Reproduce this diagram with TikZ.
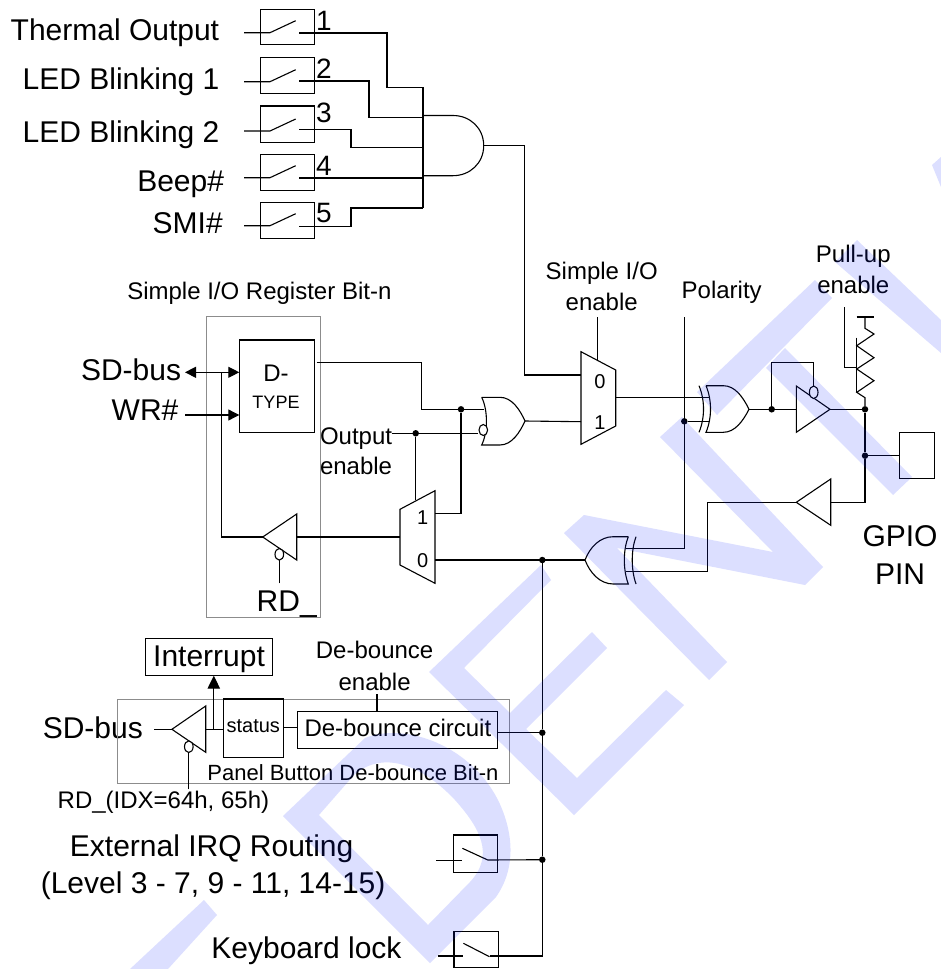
\documentclass[tikz,border=0pt]{standalone}
\usepackage{fontspec}
\setmainfont{Liberation Sans}
\usetikzlibrary{arrows.meta}
\tikzset{
  wire/.style={draw=black,line width=1.1pt,line join=miter},
  boxst/.style={draw=black,line width=1.1pt,inner sep=0pt,outer sep=0pt},
  graybox/.style={draw=black!45,line width=0.9pt,inner sep=0pt,outer sep=0pt},
  gate/.style={draw=black,line width=1.1pt,line join=miter},
  dotj/.style={circle,fill=black,inner sep=0pt,minimum size=6.5pt},
  txt/.style={inner sep=0pt,outer sep=0pt,anchor=base west},
  txtc/.style={inner sep=0pt,outer sep=0pt,anchor=base},
  big/.style={font=\fontsize{30}{36}\selectfont},
  mid/.style={font=\fontsize{24}{28}\selectfont},
  sm/.style={font=\fontsize{22}{26}\selectfont},
  muxd/.style={font=\fontsize{20}{24}\selectfont},
  wmark/.style={fill={rgb,255:red,20;green,40;blue,255},fill opacity=0.15,draw=none},
  bubble/.style={draw=black,line width=1.1pt,fill=white},
  tipa/.style={-{Triangle[length=11pt,width=11pt]}},
  tipb/.style={{Triangle[length=11pt,width=11pt]}-{Triangle[length=11pt,width=11pt]}},
  tipc/.style={-{Triangle[length=13pt,width=12.5pt]}},
}
\begin{document}
\begin{tikzpicture}[x=1pt,y=-1pt]
\useasboundingbox (0,0) rectangle (941,969);
% ---- input labels
\node[txt,big] (tTherm) at (10.7,40.7) {Thermal Output};
\node[txt,big] (tLed1) at (22.7,89.3) {LED Blinking 1};
\node[txt,big] (tLed2) at (22.7,142.7) {LED Blinking 2};
\node[txt,big] (tBeep) at (137.3,191) {Beep\#};
\node[txt,big] (tSmi) at (152.7,233.3) {SMI\#};
\node[txt,mid] (tReg) at (127.3,299) {Simple I/O Register Bit-n};
\node[txt,big] (tSd) at (81,380) {SD-bus};
\node[txt,big] (tWr) at (111.7,420.7) {WR\#};
\node[txt,mid] (tOut) at (320,444) {Output};
\node[txt,mid] (tEn) at (320,474) {enable};
\node[txt,big] (tRd) at (256.7,611.7) {RD\_};
\node[txtc,mid] (tSio) at (601.7,279.3) {Simple I/O};
\node[txtc,mid] (tSioE) at (601.7,310) {enable};
\node[txt,mid] (tPol) at (681.7,298.3) {Polarity};
\node[txtc,mid] (tPu) at (853.3,262.7) {Pull-up};
\node[txtc,mid] (tPuE) at (853.3,293.3) {enable};
\node[txtc,big] (tGpio) at (900,546.7) {GPIO};
\node[txtc,big] (tPin) at (900,584) {PIN};
\node[txtc,mid] (tDb) at (374.6,658.3) {De-bounce};
\node[txtc,mid] (tDbE) at (374.6,690) {enable};
\node[txt,big] (tSd2) at (42.8,738.3) {SD-bus};
\node[txt,mid] (tRdI) at (57.7,808.3) {RD\_(IDX=64h, 65h)};
\node[txt,sm] (tPan) at (207.4,780.7) {Panel Button De-bounce Bit-n};
\node[txt,big] (tExt) at (69.9,856.7) {External IRQ Routing};
\node[txt,big] (tLvl) at (40.8,893.3) {(Level 3 - 7, 9 - 11, 14-15)};
\node[txt,big] (tKey) at (211.4,958.3) {Keyboard lock};
% numbers beside switches
\foreach \n/\yy in {1/30,2/78.3,3/122.7,4/175,5/222.7}
  \node[txt,font=\fontsize{28}{32}\selectfont] (num\n) at (316,\yy) {\n};
% ---- boxes
\node[graybox,minimum width=113.3pt,minimum height=300.6pt] (regbox) at (263.35,467) {};
\node[graybox,minimum width=391.8pt,minimum height=84.7pt] (panbox) at (313.1,741.35) {};
\node[boxst,minimum width=75.4pt,minimum height=92.7pt] (dff) at (277,386.35) {};
\node[txtc,mid] (tD) at (276,381) {D-};
\node[txtc,font=\fontsize{18}{22}\selectfont] (tType) at (276,408) {TYPE};
\node[boxst,minimum width=127.1pt,minimum height=37.4pt] (intr) at (209.05,657) {};
\node[txtc,big] (tInt) at (209.05,666) {Interrupt};
\node[boxst,minimum width=60.2pt,minimum height=58.3pt] (stat) at (253.3,728.15) {};
\node[txtc,font=\fontsize{20}{24}\selectfont] (tSt) at (253.3,732.7) {status};
\node[boxst,minimum width=200pt,minimum height=36.6pt] (deb) at (397.9,730) {};
\node[txtc,mid] (tDc) at (397.9,736.7) {De-bounce circuit};
\node[boxst,minimum width=35pt,minimum height=46.4pt] (pin) at (916.8,455.5) {};
% switches
\node[boxst,minimum width=54.3pt,minimum height=35pt] (sw1) at (287.2,26.8) {};
\node[boxst,minimum width=54.3pt,minimum height=36.4pt] (sw2) at (287.2,75.5) {};
\node[boxst,minimum width=54.3pt,minimum height=36.7pt] (sw3) at (287.2,124.3) {};
\node[boxst,minimum width=54.3pt,minimum height=36.3pt] (sw4) at (287.2,172.2) {};
\node[boxst,minimum width=54.3pt,minimum height=36pt] (sw5) at (287.2,220.7) {};
\node[boxst,minimum width=43.9pt,minimum height=37.3pt] (swI) at (475.25,853.65) {};
\node[boxst,minimum width=44.2pt,minimum height=36pt] (swK) at (476.1,949.7) {};
\foreach \k/\yi/\yo in {1/32.7/33,2/81.7/81,3/131/129.7,4/177.7/178,5/225.7/226.7}{
  \coordinate (in\k) at (244,\yi);
  \coordinate (c\k) at (270,\yi);
  \coordinate (e\k) at (295.7,\yi-12);
  \coordinate (o\k) at (299,\yo);
  \draw[wire] (in\k) -- (c\k) -- (e\k);
}
% AND gate
\coordinate (a1) at (423,87.3);\coordinate (a2) at (423,117.7);\coordinate (a3) at (423,147.3);
\coordinate (a4) at (423,178);\coordinate (a5) at (423,208);
\draw[wire] (a1) -- (a5);
\draw[wire] (o1) -| (387,87.3) -- (a1);
\draw[wire] (o2) -| (369,117.7) -- (a2);
\draw[wire] (o3) -| (351,147.3) -- (a3);
\draw[wire] (o4) -- (a4);
\draw[wire] (o5) -| (351,208) -- (a5);
\coordinate (andout) at (483.7,145.7);
\draw[gate] (423,115.5) -- (453,115.5) .. controls (470,115.5) and (483.7,128) .. (andout) .. controls (483.7,163) and (470,175.7) .. (453,175.7) -- (423,175.7);
% Mux 1
\coordinate (m1a) at (581,375);\coordinate (m1b) at (581,421.7);\coordinate (m1o) at (615.7,397.7);
\draw[gate] (581,351.7) -- (615.7,370) -- (615.7,426) -- (581,444.3) -- cycle;
\node[txtc,muxd] (m1d0) at (600,388) {0};
\node[txtc,muxd] (m1d1) at (600,429) {1};
\coordinate (sioS) at (597.7,317.3);\coordinate (sioT) at (597.7,360);
\draw[wire] (sioS) -- (sioT);
\draw[wire] (andout) -- (524.3,145.7) -- (524.3,375) -- (m1a);
% OR gate
\coordinate (orA) at (484,409.3);\coordinate (orB) at (478.3,433.3);\coordinate (orO) at (525,421);
\draw[gate] (481.7,397.3) -- (500,397.3) .. controls (512,397.3) and (520,410) .. (orO) .. controls (520,432) and (512,445) .. (500,445) -- (481.7,445) .. controls (488,432) and (488,410) .. (481.7,397.3);
\draw[wire] (orO) -- (m1b);
\node[dotj] (j1) at (461,409.3) {};
\node[dotj] (j2) at (415.7,433.3) {};
\draw[wire] (316.7,362.7) -- (421.7,362.7) -- (421.7,409.3) -- (j1) -- (orA);
\coordinate (oeS) at (391.7,433.3);
\draw[wire] (oeS) -- (orB);
% Mux 2
\coordinate (m2l) at (400,537);\coordinate (m2a) at (435,513.7);\coordinate (m2b) at (435,560);
\draw[gate] (400,509.3) -- (435,490.7) -- (435,583.3) -- (400,565) -- cycle;
\node[txtc,muxd] (m2d1) at (422.7,524) {1};
\node[txtc,muxd] (m2d0) at (422.7,567) {0};
\draw[wire] (j2) -- (415.7,500);
\draw[wire] (j1) -- (461,513.7) -- (m2a);
% tristate back to bus
\coordinate (b1t) at (262.7,537);\coordinate (b1b) at (296.7,537);
\draw[gate] (b1t) -- (296.7,514) -- (296.7,560) -- cycle;
\draw[wire] (m2l) -- (b1b);
\draw[wire] (b1t) -- (221.5,537) -- (221.5,372.3);
\draw[wire,tipb] (185,372.3) -- (239.3,372.3);
\draw[wire,tipa] (185,415) -- (239.3,415);
\coordinate (rdT) at (279.3,583.3);
\draw[wire] (rdT) -- (279.3,560);
% XOR 1
\coordinate (x1a) at (709,397.7);\coordinate (x1b) at (709,421.3);\coordinate (x1o) at (749,409.3);
\draw[gate] (706,385.7) -- (723.3,385.7) .. controls (735,385.7) and (743,397) .. (x1o) .. controls (743,421) and (735,432.3) .. (723.3,432.3) -- (706,432.3) .. controls (712,418) and (712,400) .. (706,385.7);
\draw[gate] (699,385.7) .. controls (705,400) and (705,418) .. (699,432.3);
\draw[wire] (m1o) -- (x1a);
\node[dotj] (j3) at (684.3,421.3) {};
\draw[wire] (j3) -- (x1b);
\coordinate (polS) at (684.3,317.3);
% XOR 2
\coordinate (x2a) at (626,548.3);\coordinate (x2b) at (626,571.7);\coordinate (x2o) at (585,560);
\draw[gate] (628.3,536.7) -- (613.3,536.7) .. controls (600,536.7) and (590,547) .. (x2o) .. controls (590,573) and (600,584) .. (613.3,584) -- (628.3,584) .. controls (623,570) and (623,550) .. (628.3,536.7);
\draw[gate] (636,536.7) .. controls (631,550) and (631,570) .. (636,584);
\draw[wire] (polS) -- (684.3,548.3) -- (x2a);
\node[dotj] (j4) at (542.3,560) {};
\draw[wire] (m2b) -- (x2o);
% inverter + loop
\node[dotj] (j5) at (771.7,409.3) {};
\draw[wire] (x1o) -- (796.3,409.3);
\coordinate (b2t) at (830,409.3);
\draw[gate] (796.3,386) -- (796.3,432.3) -- (b2t) -- cycle;
\draw[wire] (j5) -- (771.7,362.7) -- (813.7,362.7) -- (813.7,386);
\node[dotj] (j6) at (865,409.3) {};
\node[dotj] (j7) at (865,455.7) {};
\draw[wire] (b2t) -- (j6) -- (j7) -- (865,502.3) -- (830.7,502.3);
\draw[wire] (j7) -- (pin.west |- j7);
% input buffer
\coordinate (b3t) at (796.3,502.3);
\draw[gate] (b3t) -- (830.7,479) -- (830.7,525.3) -- cycle;
\draw[wire] (b3t) -- (707.7,502.3) -- (707.7,571.7) -- (x2b);
% resistor
\draw[wire] (856.7,317) -- (873.7,317);
\draw[wire] (865,317) -- (865,328.3) -- (874,334) -- (856.7,345.7) -- (874,357.7) -- (856.7,369) -- (874,380.7) -- (856.7,392.3) -- (865,397.7) -- (j6);
\draw[wire] (856.7,337.7) -- (856.7,392.3);
\draw[wire] (844.3,307.3) -- (844.3,367.7) -- (856.7,367.7);
% main vertical
\node[dotj] (j8) at (542.3,732.7) {};
\node[dotj] (j9) at (542.3,859.7) {};
\draw[wire] (j4) -- (j8) -- (j9) -- (542.3,956) -- (489.5,956);
\draw[wire] (deb.east |- j8) -- (j8);
\draw[wire] (437.8,956) -- (463.4,956);
\draw[wire] (463.4,943.3) -- (489.5,956.7);
\draw[wire] (436.4,860.3) -- (462.4,860.3);
\draw[wire] (462.4,848.3) -- (487.8,860) -- (j9);
% panel
\coordinate (b4t) at (171.9,729.3);
\draw[gate] (b4t) -- (205.7,706) -- (205.7,752.3) -- cycle;
\draw[wire] (154.3,729.3) -- (b4t);
\draw[wire] (205.7,729.3) -- (stat.west |- 0,729.3);
\draw[wire,tipc] (213.8,729.3) -- (intr.south -| 213.8,0);
\draw[wire] (stat.east |- 0,727.3) -- (deb.west |- 0,727.3);
\draw[wire] (377,694) -- (deb.north -| 377,0);
\coordinate (rdI) at (188.8,789.3);
\draw[wire] (rdI) -- (188.8,752.5);
% bubbles
\draw[bubble] (483.3,430) ellipse (4.3pt and 5.5pt);
\draw[bubble] (279.3,554.3) ellipse (4.3pt and 5.8pt);
\draw[bubble] (813.7,392.3) ellipse (4.3pt and 6.3pt);
\draw[bubble] (188.8,746.7) ellipse (4.3pt and 5.8pt);
% ---- watermark
\fill[wmark] (717,415) -- (832,298) -- (815,280) -- (697,392) -- cycle;
\fill[wmark] (785,348) -- (912,477) -- (893,495) -- (766,368) -- cycle;
\fill[wmark] (857,240) -- (941,320) -- (941,353) -- (835,262) -- cycle;
\fill[wmark] (932,165) -- (941,157) -- (941,187) -- cycle;
\fill[wmark] (584,515) -- (773,552) -- (660,437) -- (682,417) -- (823,567) -- (805,585) -- (617,548) -- (727,662) -- (709,680) -- (564,533) -- cycle;
\fill[wmark] (541,565) -- (551,580) -- (464,668) -- (510,713) -- (592,632) -- (607,648) -- (526,729) -- (577,778) -- (666,690) -- (684,705) -- (574,815) -- (429,672) -- cycle;
\fill[wmark] (283,816) -- (365,738) .. controls (405,722) and (470,745) .. (498,800) .. controls (515,835) and (515,870) .. (496,897) -- (430,963) -- cycle
  (319,815) -- (428,925) -- (470,882) .. controls (495,855) and (480,828) .. (455,800) .. controls (425,768) and (385,748) .. (354,775) -- cycle;
\fill[wmark] (204,900) -- (217,915) -- (168,969) -- (130,969) -- cycle;
\end{tikzpicture}
\end{document}
